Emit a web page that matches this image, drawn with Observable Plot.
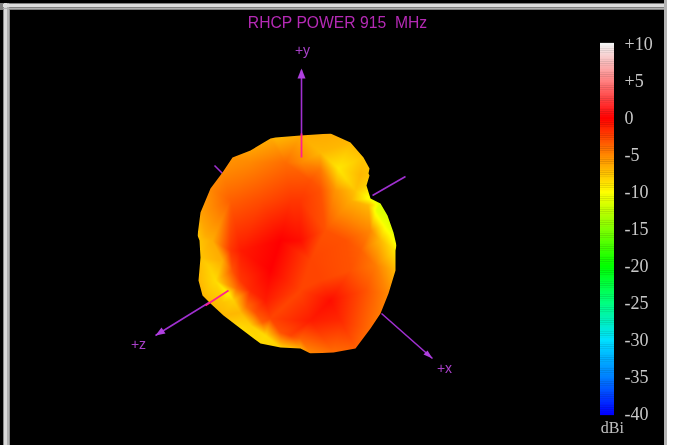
<!DOCTYPE html>
<html><head><meta charset="utf-8">
<style>html,body{margin:0;padding:0;background:#000}#c{position:relative;width:676px;height:445px;overflow:hidden;filter:blur(0.45px)}#c svg{position:absolute;left:0;top:0;background:transparent}</style>
<script src="https://cdn.jsdelivr.net/npm/d3@7"></script>
<script src="https://cdn.jsdelivr.net/npm/@observablehq/plot@0.6"></script>
</head><body><div id="c"></div>
<script>
// colour bar
const barStops=[-40,-35,-30,-25,-20,-15,-10,-5,0,5,10];
const barColors=["#0000ff","#0080ff","#00e0ff","#00ff80","#00ff00","#80ff00","#ffff00","#ff8800","#ff0000","#ff8080","#f4f4f4"];
const tickValues=[10,5,0,-5,-10,-15,-20,-25,-30,-35,-40];
const tickLabels=["+10","+5","0","-5","-10","-15","-20","-25","-30","-35","-40"];
// pattern outline
const outlineX=[275,300,330,350,363,369,368,369,366,370,380,387,393,396,395,395,388,380,370,355,333,310,300,280,260,240,223,210,202,198,200,199,197,200,210,222,232,250,270];
const outlineY=[137,135,133,142,157,168,173,175,185,198,203,215,232,245,250,270,293,313,328,348,352,353,348,347,343,328,315,303,295,280,257,240,235,212,188,172,157,150,138];
const outlineDb=[-7,-6.5,-6.5,-7,-7.5,-7.5,-7.5,-7.5,-8,-10.5,-11.5,-11.5,-11,-10,-9,-7,-5,-4.5,-4,-3.5,-4,-5,-6.5,-8,-8.5,-8.5,-7,-7,-7,-7,-7.5,-7.5,-7.5,-6,-5,-5,-5.5,-6,-6.5];
// interior pattern gain
const innerX=[338,345,301,320,320,310,205,230,250,260,240,212,290,285,300,320,335,350,355,360,368,376,385,380,370,345,208,215,222,230,228,233,222,240,250,265,265,250,240,270,280,300,310,300,320,330,310,290,340,350,365,375,360,325,270,255,385,232,236,246,262,280,300];
const innerY=[168,178,162,152,168,180,235,200,162,200,250,240,200,162,200,190,190,200,190,175,205,210,225,240,230,240,265,280,260,250,293,300,302,312,325,300,335,290,280,270,240,240,260,290,280,300,320,335,320,270,290,265,250,230,318,312,285,270,288,306,322,332,338];
const innerDb=[-9,-8.5,-5,-7,-4.5,-3,-6.5,-3.5,-5,-2.8,-1,-6.5,-2,-4,-2,-3,-5.5,-6.5,-7.5,-7,-7,-11,-10.5,-7,-5,-3,-8,-8.5,-6.5,-2,-9.5,-8,-7.5,-7,-8,-1,-8.5,-1.5,-2,0,0,-0.5,-2.5,-2.5,-2.5,-0.5,-1,-2.5,-1.5,-3,-3,-4.5,-3.5,-3,-2.5,-3,-5,-3,-4,-4,-3.5,-3,-3.5];
// axis lines: x1,y1,x2,y2
const axisX1=[301,228,381,214,372], axisY1=[157,290,313,165,195], axisX2=[301,155,432,222,405], axisY2=[70,335,358,173,176];
const overlayX1=[301,228], overlayY1=[157,290], overlayX2=[301,205], overlayY2=[133,305];
const headX=[301,297,305,301, 155,165,161,155, 432,427,423,432];
const headY=[68,78,78,68, 335,333,327,335, 358,350,354,358];
const headId=["y","y","y","y","z","z","z","z","x","x","x","x"];
const axisNames=["+y","+z","+x"], axisNameX=[302,138,444], axisNameY=[50,344,368];
const titleText="RHCP POWER 915\u00a0\u00a0MHz";
// window chrome
const chromeX1=[667,0,0,0,3,4,7,3,3,664],chromeX2=[676,667,10,667,10,7,9,667,667,667];
const chromeY1=[0,3,0,3,3,3,3,4,8,0],chromeY2=[445,10,445,10,445,445,445,7,9,445];
const chromeFill=["#fff","#808080","#000","#808080","#8a8a8a","#d8d8d8","#b0b0b0","#dcdcdc","#b0b0b0","#b4b4b4"];

const idx=a=>a.map((_,i)=>i);
const samples=[...outlineX.map((x,i)=>({x,y:outlineY[i],dBi:outlineDb[i]})),...innerX.map((x,i)=>({x,y:innerY[i],dBi:innerDb[i]}))];
const outline=outlineX.map((x,i)=>({x,y:outlineY[i]}));
const colorScale={type:"linear",domain:barStops,range:barColors,interpolate:"rgb"};

function clipToOutline(index,scales,values,dims,ctx,next){
  const g=next(index,scales,values,dims,ctx);
  const ns="http://www.w3.org/2000/svg";
  const cp=document.createElementNS(ns,"clipPath");cp.setAttribute("id","blobclip");
  const p=document.createElementNS(ns,"polygon");
  p.setAttribute("points",outline.map(d=>scales.x(d.x)+","+scales.y(d.y)).join(" "));
  cp.appendChild(p);g.appendChild(cp);g.setAttribute("clip-path","url(#blobclip)");
  return g;
}
const main=Plot.plot({
  width:676,height:445,margin:0,
  x:{domain:[0,676],range:[0,676],axis:null},
  y:{domain:[0,445],range:[0,445],axis:null},
  color:colorScale,
  style:{background:"#000"},
  marks:[
    Plot.rect(idx(chromeX1),{x1:i=>chromeX1[i],x2:i=>chromeX2[i],y1:i=>chromeY1[i],y2:i=>chromeY2[i],fill:i=>chromeFill[i]}),
    Plot.link(idx(axisX1),{x1:i=>axisX1[i],y1:i=>axisY1[i],x2:i=>axisX2[i],y2:i=>axisY2[i],stroke:"#a030d0",strokeWidth:1.6}),
    Plot.line(idx(headX),{x:i=>headX[i],y:i=>headY[i],z:i=>headId[i],fill:"#b040e0",stroke:"none"}),
    Plot.raster(samples,{x:"x",y:"y",fill:"dBi",interpolate:"barycentric",pixelSize:1,render:clipToOutline}),
    Plot.link(idx(overlayX1),{x1:i=>overlayX1[i],y1:i=>overlayY1[i],x2:i=>overlayX2[i],y2:i=>overlayY2[i],stroke:"#ff2090",strokeWidth:1.8}),
    Plot.text([titleText],{x:[337],y:[22],text:d=>d,fill:"#b52ab5",fontSize:15.7,fontFamily:"Liberation Sans"}),
    Plot.text(axisNames,{x:(_,i)=>axisNameX[i],y:(_,i)=>axisNameY[i],text:d=>d,fill:"#a840c8",fontSize:14,fontFamily:"Liberation Sans"})
  ]
});
const barData=d3.range(-40,10.01,0.25);
const legend=Plot.plot({
  width:676,height:445,marginTop:44,marginBottom:31,marginLeft:600,marginRight:62,
  x:{domain:[0,1],axis:null},
  y:{domain:[-40,10],axis:null},
  color:colorScale,
  style:{background:"transparent"},
  marks:[
    Plot.rect(barData,{x1:0,x2:1,y1:d=>d-0.15,y2:d=>d+0.15,fill:d=>d}),
    Plot.axisY({anchor:"right",ticks:tickValues,tickSize:0,tickPadding:10,tickFormat:d=>tickLabels[tickValues.indexOf(d)],fontSize:18,fontFamily:"Liberation Serif",color:"#c8c8c8",label:null,textStroke:"none"}),
    Plot.text(["dBi"],{x:[0.85],y:[-41.8],text:d=>d,fill:"#c0c0c0",fontSize:16,fontFamily:"Liberation Serif",clip:false})
  ]
});
document.getElementById("c").append(main,legend);
</script></body></html>
